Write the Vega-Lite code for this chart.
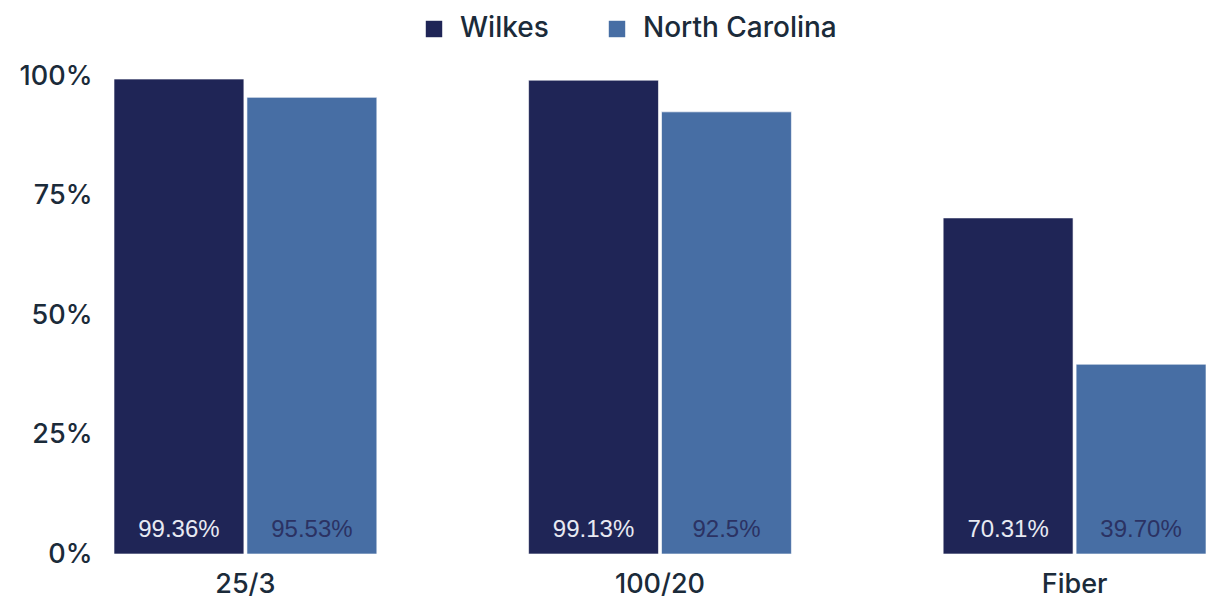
{
  "$schema": "https://vega.github.io/schema/vega-lite/v6.json",
  "autosize": {"type": "none"},
  "width": 1092,
  "height": 478,
  "padding": {"left": 114, "top": 76, "right": 0, "bottom": 50},
  "background": "#ffffff",
  "config": {
    "view": {"stroke": null},
    "font": "Inter",
    "axis": {"domain": false, "ticks": false, "grid": false, "labelColor": "#1b2b3a", "labelFontSize": 27, "labelFont": "Inter", "labelFontWeight": 500, "title": null}
  },
  "data": {
    "values": [
      {"category": "25/3", "series": "Wilkes", "value": 99.36, "label": "99.36%"},
      {"category": "25/3", "series": "North Carolina", "value": 95.53, "label": "95.53%"},
      {"category": "100/20", "series": "Wilkes", "value": 99.13, "label": "99.13%"},
      {"category": "100/20", "series": "North Carolina", "value": 92.5, "label": "92.5%"},
      {"category": "Fiber", "series": "Wilkes", "value": 70.31, "label": "70.31%"},
      {"category": "Fiber", "series": "North Carolina", "value": 39.7, "label": "39.70%"}
    ]
  },
  "encoding": {
    "x": {"field": "category", "type": "nominal", "sort": ["25/3", "100/20", "Fiber"], "scale": {"paddingInner": 0.366, "paddingOuter": 0}, "axis": {"labelAngle": 0, "labelPadding": 17}},
    "xOffset": {"field": "series", "type": "nominal", "sort": ["Wilkes", "North Carolina"], "scale": {"paddingInner": 0.023}}
  },
  "layer": [
    {
      "mark": {"type": "bar", "stroke": "#ffffff", "strokeWidth": 1, "strokeOpacity": 0.6},
      "encoding": {
        "y": {"field": "value", "type": "quantitative", "scale": {"domain": [0, 100]}, "axis": {"values": [0, 25, 50, 75, 100], "labelExpr": "datum.value + '%'", "labelPadding": 22}},
        "color": {"field": "series", "type": "nominal", "scale": {"domain": ["Wilkes", "North Carolina"], "range": ["#1f2556", "#476ea4"]},
          "legend": {"title": null, "orient": "none", "direction": "horizontal", "legendX": 306, "legendY": -61, "symbolType": "square", "symbolSize": 270, "symbolStrokeWidth": 0, "labelFontSize": 28, "labelFont": "Inter", "labelFontWeight": 500, "labelColor": "#1b2b3a", "labelOffset": 12, "labelLimit": 0, "columnPadding": 54, "padding": 0}}
      }
    },
    {
      "mark": {"type": "text", "font": "Liberation Sans", "fontSize": 24, "baseline": "middle", "align": "center", "dy": -24},
      "encoding": {
        "y": {"datum": 0, "type": "quantitative"},
        "text": {"field": "label"},
        "color": {"condition": {"test": "datum.series === 'Wilkes'", "value": "#e8eaf2"}, "value": "#2b3263"}
      }
    }
  ]
}
